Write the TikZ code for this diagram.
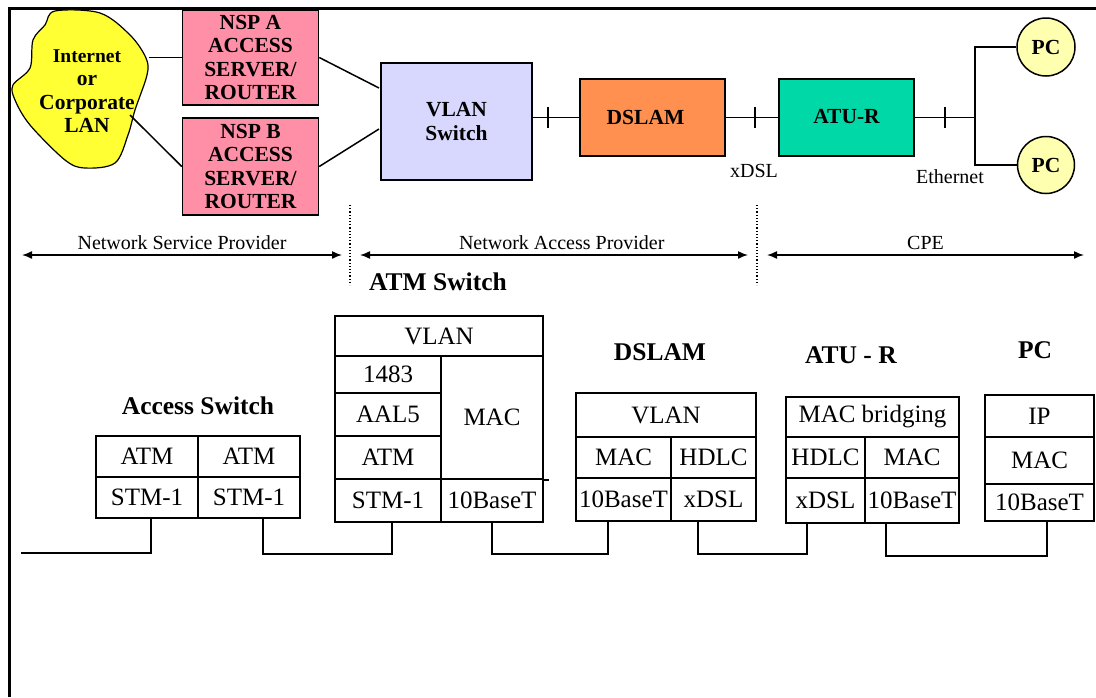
\documentclass[tikz,border=0pt]{standalone}
\usepackage{fontspec}
\setmainfont{Liberation Serif}
\usetikzlibrary{arrows.meta,positioning}
\begin{document}
\begin{tikzpicture}[x=1pt,y=-1pt,>={Latex[length=10pt,width=8pt]},line width=1.5pt]
\tikzstyle{box}=[draw, align=center, inner sep=0pt, line width=1.5pt, font=\fontsize{21.5}{23.4}\selectfont\bfseries]
\tikzstyle{cell}=[draw, align=center, inner sep=0pt, font=\fontsize{25}{26}\selectfont]
\tikzstyle{lab}=[inner sep=0pt, font=\fontsize{20}{22}\selectfont]
\tikzstyle{title}=[inner sep=0pt, font=\fontsize{25.5}{28}\selectfont\bfseries]
\useasboundingbox (0,0) rectangle (1096,697);
\fill[white] (0,0) rectangle (1096,697);
\draw[line width=3pt] (9,697)--(9,8)--(1096,8);
% network
\draw[fill={rgb,255:red,255;green,255;blue,51}, line width=1.2pt] plot[smooth cycle, tension=0.55] coordinates {(55,11) (100,13) (130,35) (146,58) (147,75) (135,110) (128,135) (115,163) (85,168) (65,160) (30,125) (15,100) (13,85) (30,68) (33,40) (45,25)};
\node[box, draw=none] (lan) at (87,91) {\fontsize{19.5}{24}\selectfont Internet\\or\\Corporate\\LAN};
\node[box, fill={rgb,255:red,255;green,143;blue,166}, minimum width=136pt, minimum height=95pt] (nspa) at (250.5,57.5) {NSP A\\ACCESS\\SERVER/\\ROUTER};
\node[box, fill={rgb,255:red,255;green,143;blue,166}, minimum width=136pt, minimum height=97pt] (nspb) at (250.5,166.5) {NSP B\\ACCESS\\SERVER/\\ROUTER};
\node[box, fill={rgb,255:red,216;green,216;blue,255}, minimum width=151pt, minimum height=117pt] (vlan) at (456.5,121.5) {VLAN\\Switch};
\node[box, fill={rgb,255:red,255;green,144;blue,80}, minimum width=145pt, minimum height=77pt] (dslam) at (652.5,117.5) {DSLAM\hspace{14pt}};
\node[box, fill={rgb,255:red,0;green,216;blue,168}, minimum width=135pt, minimum height=77pt] (atur) at (846.5,117.5) {\raisebox{2pt}{ATU-R}};
\node[box, circle, fill={rgb,255:red,255;green,255;blue,176}, minimum size=58pt] (pca) at (1046,47) {PC};
\node[box, circle, fill={rgb,255:red,255;green,255;blue,176}, minimum size=57pt] (pcb) at (1046,165) {PC};
\coordinate (lana) at (149,57.5);
\coordinate (lanb) at (130,115);
\coordinate (vlana) at (379,88);
\coordinate (vlanb) at (379,129);
\coordinate (hub) at (975,117.5);
\draw (lana)--(nspa.west); \draw (lanb)--(nspb.west);
\draw (nspa.east)--(vlana); \draw (nspb.east)--(vlanb);
\draw (vlan.east|-dslam.west)--(dslam.west); \draw (dslam.east)--(atur.west); \draw (atur.east)--(hub);
\draw (pca.west)-|(hub); \draw (pcb.west)-|(hub);
\foreach \x in {548,755,945} \draw (\x,107)--(\x,128);
\node[lab] (xdsl) at (754,171) {xDSL};
\node[lab] (ether) at (950,177) {Ethernet};
% spans
\coordinate (nspl) at (22,255); \coordinate (nspr) at (342,255);
\coordinate (napl) at (360,255); \coordinate (napr) at (748,255);
\coordinate (cpel) at (767,255); \coordinate (cper) at (1084,255);
\draw[<->] (nspl)--(nspr) node[lab, midway, above=5pt] (nsplab) {Network Service Provider};
\draw[<->] (napl)--(napr) node[lab, pos=0.52, above=5pt] (naplab) {Network Access Provider};
\draw[<->] (cpel)--(cper) node[lab, pos=0.5, above=5pt] (cpelab) {CPE};
\draw[dotted, line width=1.2pt] (350,205)--(350,285);
\draw[dotted, line width=1.2pt] (757,205)--(757,285);
% titles
\node[title] (t1) at (198,406) {Access Switch};
\node[title] (t2) at (438,282) {ATM Switch};
\node[title] (t3) at (660,352) {DSLAM};
\node[title] (t4) at (851,355) {ATU - R};
\node[title] (t5) at (1035,350) {PC};
% access switch
\node[cell, minimum width=102pt, minimum height=41pt] (aatm) at (147,456.5) {ATM};
\node[cell, minimum width=102pt, minimum height=41pt] (bate) at (249,456.5) {ATM};
\node[cell, minimum width=102pt, minimum height=41pt] (astm) at (147,497.5) {STM-1};
\node[cell, minimum width=102pt, minimum height=41pt] (bstm) at (249,497.5) {STM-1};
% atm switch
\node[cell, minimum width=208pt, minimum height=40pt] (svlan) at (439,336) {VLAN};
\node[cell, minimum width=106pt, minimum height=37pt] (s1483) at (388,374.5) {1483};
\node[cell, minimum width=106pt, minimum height=43pt] (saal) at (388,414.5) {AAL5};
\node[cell, minimum width=106pt, minimum height=43pt] (satm) at (388,457.5) {ATM};
\node[cell, minimum width=106pt, minimum height=43pt] (sstm) at (388,500.5) {STM-1};
\node[cell, minimum width=102pt, minimum height=123pt] (smac) at (492,417.5) {MAC};
\node[cell, minimum width=102pt, minimum height=43pt] (sbase) at (492,500.5) {10BaseT};
\draw (smac.south east)--++(5,0);
% dslam
\node[cell, minimum width=180pt, minimum height=44pt] (dvlan) at (666,415) {VLAN};
\node[cell, minimum width=95pt, minimum height=41pt] (dmac) at (623.5,457.5) {MAC};
\node[cell, minimum width=85pt, minimum height=41pt] (dhdlc) at (713.5,457.5) {HDLC};
\node[cell, minimum width=95pt, minimum height=43pt] (dbase) at (623.5,499.5) {10BaseT};
\node[cell, minimum width=85pt, minimum height=43pt] (dxdsl) at (713.5,499.5) {xDSL};
% atu-r
\node[cell, minimum width=173pt, minimum height=40pt] (rbridge) at (872.5,417) {MAC bridging};
\node[cell, minimum width=79pt, minimum height=41pt] (rhdlc) at (825.5,457.5) {HDLC};
\node[cell, minimum width=94pt, minimum height=41pt] (rmac) at (912,457.5) {MAC};
\node[cell, minimum width=79pt, minimum height=45pt] (rxdsl) at (825.5,500.5) {xDSL};
\node[cell, minimum width=94pt, minimum height=45pt] (rbase) at (912,500.5) {10BaseT};
% pc
\node[cell, minimum width=109pt, minimum height=42pt] (pip) at (1039.5,416) {IP};
\node[cell, minimum width=109pt, minimum height=47pt] (pmac) at (1039.5,460.5) {MAC};
\node[cell, minimum width=109pt, minimum height=37pt] (pbase) at (1039.5,502.5) {10BaseT};
% wiring
\coordinate (busl) at (21,553);
\draw ([xshift=4pt]astm.south) |- (busl);
\draw ([xshift=14pt]bstm.south) --++(0,35) -| ([xshift=4pt]sstm.south);
\draw (sbase.south) --++(0,31) -| ([xshift=-15.5pt]dbase.south);
\draw ([xshift=-15.5pt]dxdsl.south) --++(0,32) -| ([xshift=-18.5pt]rxdsl.south);
\draw ([xshift=-26pt]rbase.south) --++(0,32) -| ([xshift=7.5pt]pbase.south);
\end{tikzpicture}
\end{document}
